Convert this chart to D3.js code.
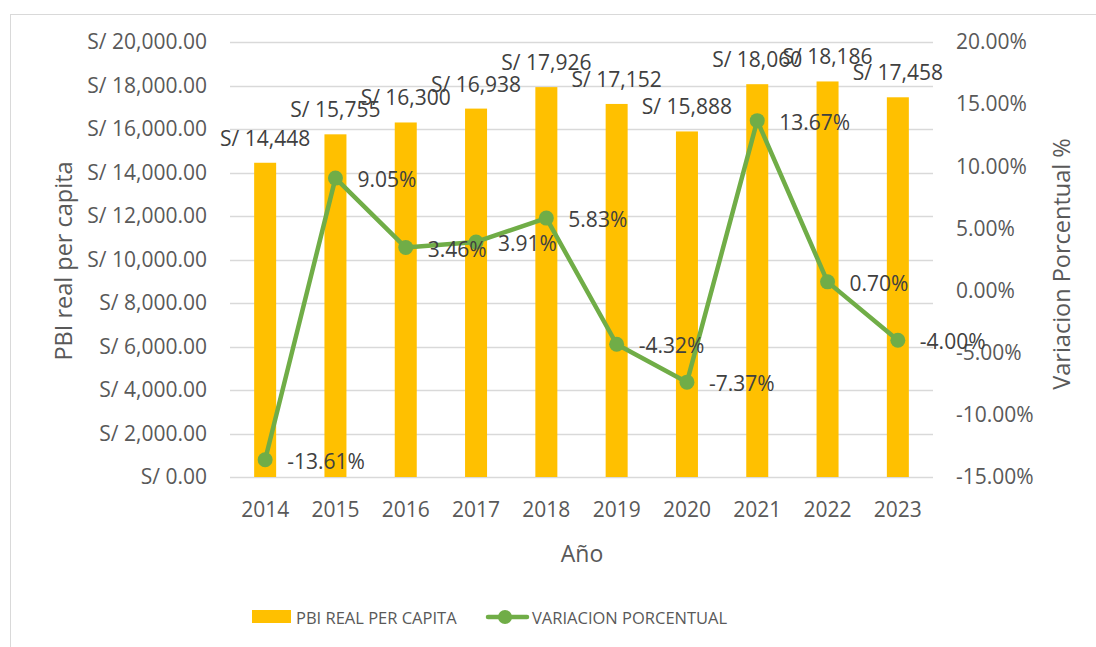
<!DOCTYPE html>
<html>
  <head>
    <meta charset="utf-8">
    <title>PBI real per capita</title>
    <script src="https://cdn.jsdelivr.net/npm/d3@7"></script>
    <style>
      body { margin: 0; background: #fff; }
      text { font-family: "Open Sans", "Liberation Sans", sans-serif; }
    </style>
  </head>
  <body>
    <div id="chart"></div>
    <script>
      var years = ['2014','2015','2016','2017','2018','2019','2020','2021','2022','2023'];
      var pbi = [14448, 15755, 16300, 16938, 17926, 17152, 15888, 18060, 18186, 17458];
      var variacion = [-13.61, 9.05, 3.46, 3.91, 5.83, -4.32, -7.37, 13.67, 0.70, -4.00];
      var leftTicks = [0, 2000, 4000, 6000, 8000, 10000, 12000, 14000, 16000, 18000, 20000];
      var rightTicks = [-15, -10, -5, 0, 5, 10, 15, 20];

      var width = 1096, height = 647;
      var plot = {left: 230, right: 933, top: 42, bottom: 477};
      var fs = '21px';

      var svg = d3.select('#chart').append('svg')
        .attr('width', width)
        .attr('height', height);

      // chart frame
      svg.append('rect')
        .attr('x', 10.5).attr('y', 14.5)
        .attr('width', width).attr('height', height)
        .attr('fill', 'none').attr('stroke', '#d9d9d9');

      var x = d3.scaleBand().domain(years).range([plot.left, plot.right]);
      var y = d3.scaleLinear().domain([0, 20000]).range([plot.bottom, plot.top]);
      var y2 = d3.scaleLinear().domain([-15, 20]).range([plot.bottom, plot.top]);

      // gridlines
      svg.append('g').selectAll('line')
        .data(leftTicks)
        .enter().append('line')
        .attr('x1', plot.left).attr('x2', plot.right)
        .attr('y1', function(d) { return Math.round(y(d)) + 0.5; })
        .attr('y2', function(d) { return Math.round(y(d)) + 0.5; })
        .attr('stroke', '#d9d9d9').attr('stroke-width', 1.3);

      var fmtMoney = d3.format(',.2f');
      var fmtInt = d3.format(',');
      var fmtPct = function(d) { return d.toFixed(2) + '%'; };

      // left axis
      var yAxis = svg.append('g')
        .attr('transform', 'translate(' + 207 + ',0)')
        .call(d3.axisLeft(y).tickValues(leftTicks).tickSize(0).tickPadding(0)
          .tickFormat(function(d) { return 'S/ ' + fmtMoney(d); }));
      yAxis.select('.domain').remove();
      yAxis.selectAll('text').attr('fill', '#595959').style('font-size', fs);

      // right axis
      var y2Axis = svg.append('g')
        .attr('transform', 'translate(' + 956 + ',0)')
        .call(d3.axisRight(y2).tickValues(rightTicks).tickSize(0).tickPadding(0)
          .tickFormat(fmtPct));
      y2Axis.select('.domain').remove();
      y2Axis.selectAll('text').attr('fill', '#595959').style('font-size', fs);

      // bottom axis
      var xAxis = svg.append('g')
        .attr('transform', 'translate(0,' + 502 + ')')
        .call(d3.axisBottom(x).tickSize(0).tickPadding(0));
      xAxis.select('.domain').remove();
      xAxis.selectAll('text').attr('fill', '#595959').style('font-size', fs);

      // bars
      var barW = 22;
      svg.append('g').selectAll('rect')
        .data(pbi)
        .enter().append('rect')
        .attr('x', function(d, i) { return x(years[i]) + x.bandwidth() / 2 - barW / 2; })
        .attr('y', function(d) { return y(d); })
        .attr('width', barW)
        .attr('height', function(d) { return y(0) - y(d); })
        .attr('fill', '#ffc000');

      // bar labels
      svg.append('g').selectAll('text')
        .data(pbi)
        .enter().append('text')
        .attr('x', function(d, i) { return x(years[i]) + x.bandwidth() / 2; })
        .attr('y', function(d) { return y(d) - 17; })
        .attr('text-anchor', 'middle')
        .attr('fill', '#404040')
        .style('font-size', fs)
        .text(function(d) { return 'S/ ' + fmtInt(d); });

      // line
      var line = d3.line()
        .x(function(d, i) { return x(years[i]) + x.bandwidth() / 2; })
        .y(function(d) { return y2(d); });

      svg.append('path')
        .datum(variacion)
        .attr('d', line)
        .attr('fill', 'none')
        .attr('stroke', '#70ad47')
        .attr('stroke-width', 4.5)
        .attr('stroke-linejoin', 'round');

      svg.append('g').selectAll('circle')
        .data(variacion)
        .enter().append('circle')
        .attr('cx', function(d, i) { return x(years[i]) + x.bandwidth() / 2; })
        .attr('cy', function(d) { return y2(d); })
        .attr('r', 7.5)
        .attr('fill', '#70ad47');

      svg.append('g').selectAll('text')
        .data(variacion)
        .enter().append('text')
        .attr('x', function(d, i) { return x(years[i]) + x.bandwidth() / 2 + 22; })
        .attr('y', function(d) { return y2(d) + 9; })
        .attr('fill', '#404040')
        .style('font-size', fs)
        .text(fmtPct);

      // axis titles
      svg.append('text')
        .attr('transform', 'translate(72,' + 261 + ') rotate(-90)')
        .attr('text-anchor', 'middle')
        .attr('fill', '#595959')
        .style('font-size', '23.5px')
        .text('PBI real per capita');

      svg.append('text')
        .attr('transform', 'translate(1070,' + 264 + ') rotate(-90)')
        .attr('text-anchor', 'middle')
        .attr('fill', '#595959')
        .style('font-size', '23.5px')
        .text('Variacion Porcentual %');

      svg.append('text')
        .attr('x', 582)
        .attr('y', 562)
        .attr('text-anchor', 'middle')
        .attr('fill', '#595959')
        .style('font-size', '23px')
        .text('Año');

      // legend
      var legend = svg.append('g');
      legend.append('rect')
        .attr('x', 252).attr('y', 610)
        .attr('width', 39).attr('height', 13)
        .attr('fill', '#ffc000');
      legend.append('text')
        .attr('x', 296).attr('y', 624)
        .attr('fill', '#595959')
        .style('font-size', '16.5px')
        .text('PBI REAL PER CAPITA');
      legend.append('line')
        .attr('x1', 488).attr('x2', 527)
        .attr('y1', 617).attr('y2', 617)
        .attr('stroke', '#70ad47').attr('stroke-width', 4.5)
        .attr('stroke-linecap', 'round');
      legend.append('circle')
        .attr('cx', 505).attr('cy', 617).attr('r', 7)
        .attr('fill', '#70ad47');
      legend.append('text')
        .attr('x', 532).attr('y', 624)
        .attr('fill', '#595959')
        .style('font-size', '16.5px')
        .text('VARIACION PORCENTUAL');
    </script>
  </body>
</html>
